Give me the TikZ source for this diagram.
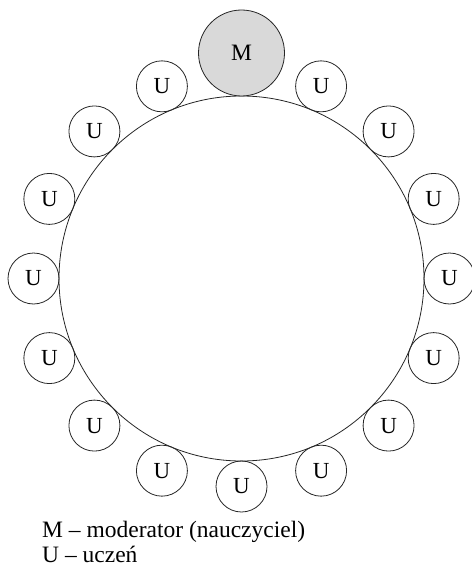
\documentclass[tikz,border=0pt]{standalone}
\usepackage{fontspec}
\setmainfont{Liberation Serif}
\definecolor{mgray}{HTML}{D9D9D9}
\begin{document}
\begin{tikzpicture}[x=1pt,y=-1pt,
  ring/.style={draw=black!85,line width=0.8pt,circle,inner sep=0pt},
  stud/.style={ring,minimum size=51pt,font=\fontsize{23}{23}\selectfont},
  mod/.style={ring,fill=mgray,minimum size=86pt,font=\fontsize{23.5}{23.5}\selectfont},
  legend/.style={anchor=base west,inner sep=0pt,font=\fontsize{23.5}{23.5}\selectfont}]
\useasboundingbox (0,0) rectangle (471,567);
\node[ring,minimum size=365pt] (big) at (241.5,278.5) {};
\node[mod] (m) at (241.5,53) {M};
\foreach \i in {1,...,15}{
  \pgfmathsetmacro{\a}{90+22.5*\i}
  \node[stud] (u\i) at ({241.5+208*cos(\a)},{278.5-208*sin(\a)}) {U};
}
\node[legend] (l1) at (42,537) {M – moderator (nauczyciel)};
\node[legend] (l2) at (42,562.5) {U – uczeń};
\end{tikzpicture}
\end{document}
